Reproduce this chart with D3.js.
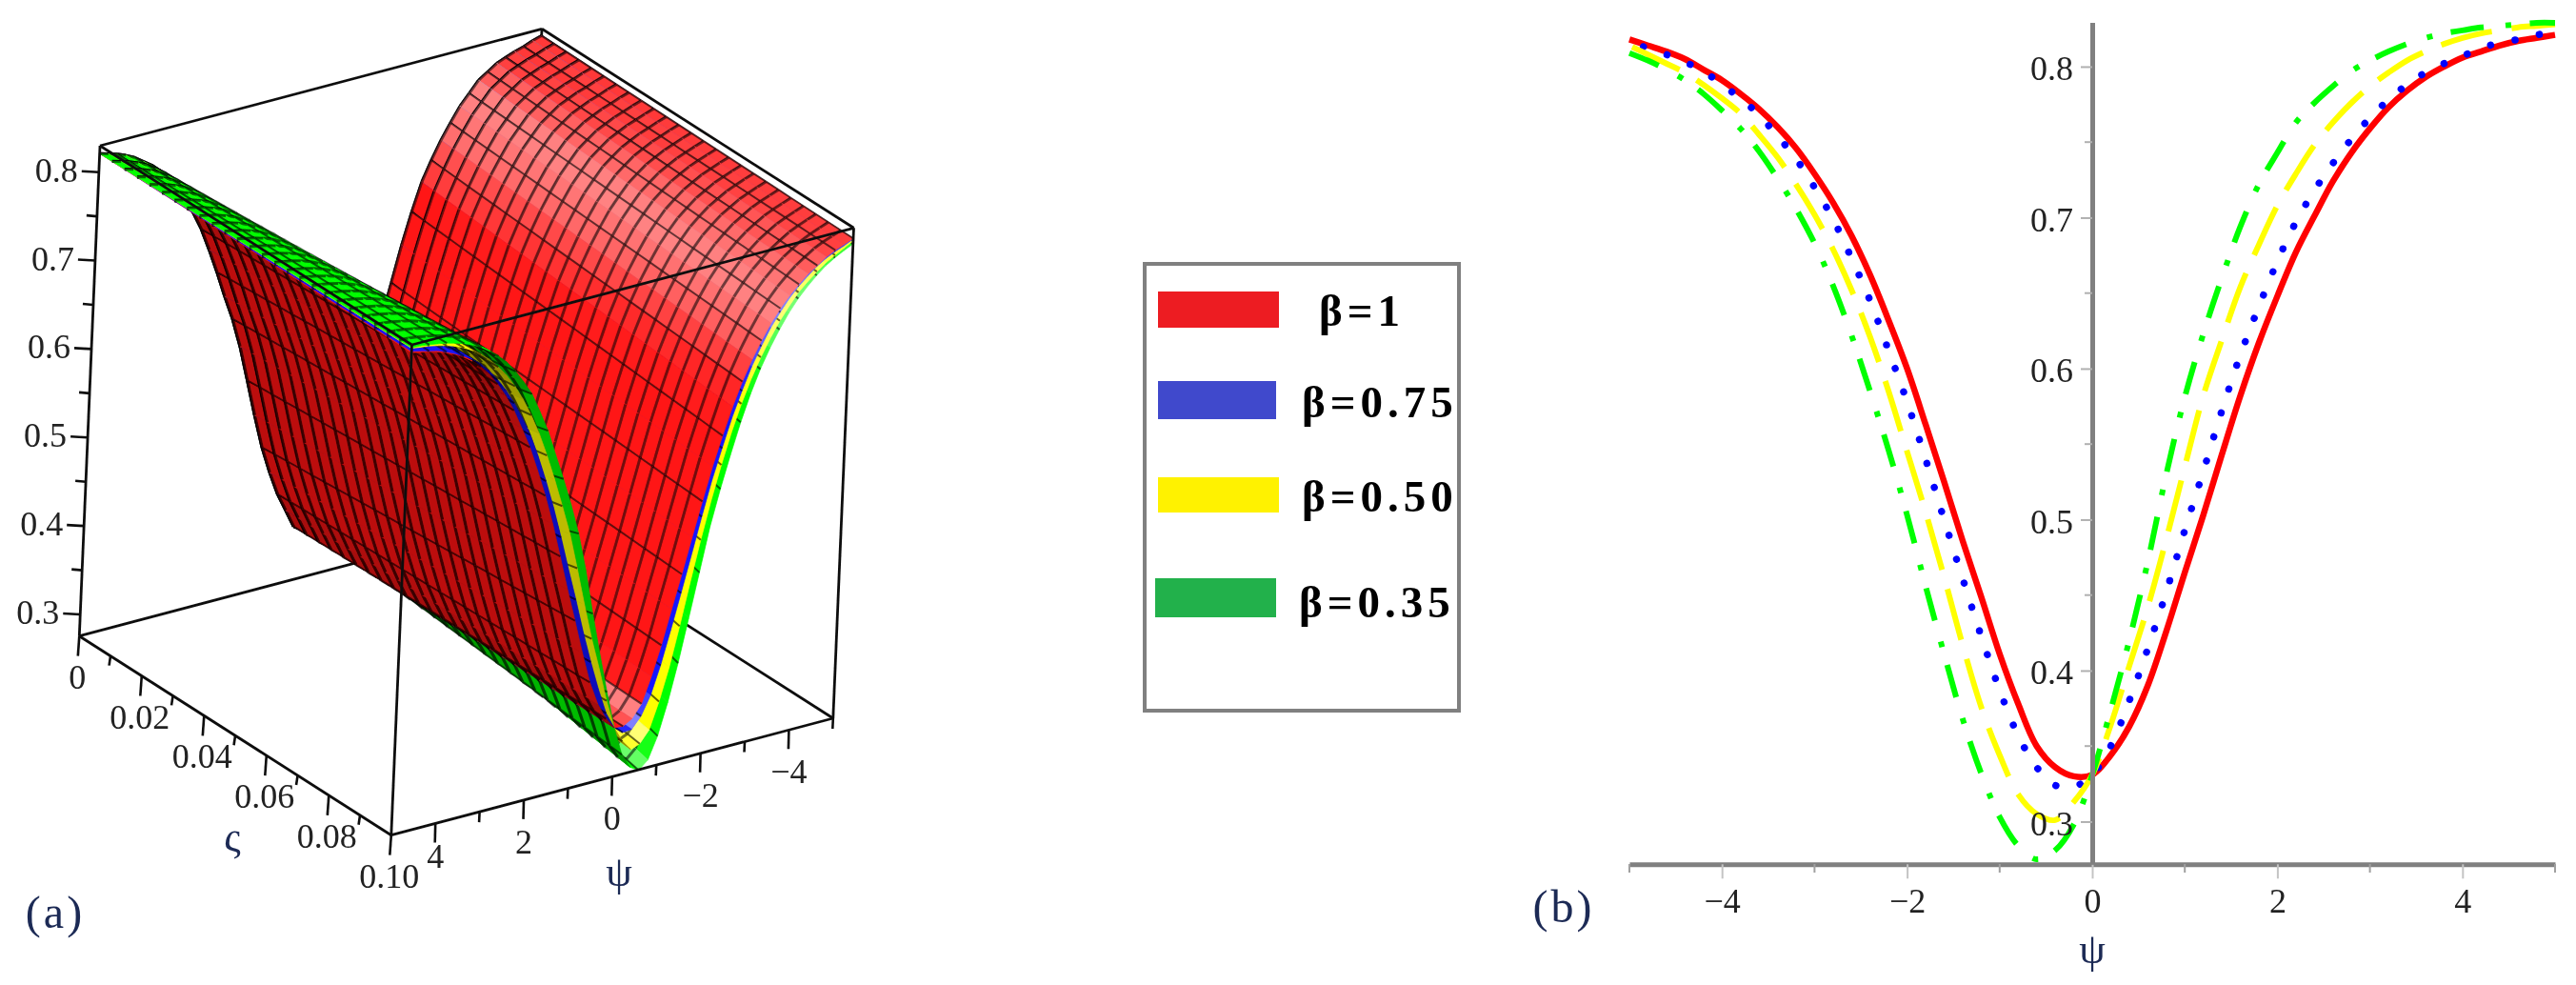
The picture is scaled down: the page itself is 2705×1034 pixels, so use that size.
<!DOCTYPE html>
<html><head><meta charset="utf-8">
<style>html,body{margin:0;padding:0;background:#fff}svg{display:block}text{font-family:"Liberation Serif",serif}</style>
<script src="https://cdn.jsdelivr.net/npm/d3@7"></script></head>
<body><svg id="c" width="2705" height="1034"></svg>
<script>
const psi=[-5,-4.8,-4.6,-4.4,-4.2,-4,-3.8,-3.6,-3.4,-3.2,-3,-2.8,-2.6,-2.4,-2.2,-2,-1.8,-1.6,-1.4,-1.2,-1,-.8,-.6,-.4,-.2,0,.2,.4,.6,.8,1,1.2,1.4,1.6,1.8,2,2.2,2.4,2.6,2.8,3,3.2,3.4,3.6,3.8,4,4.2,4.4,4.6,4.8,5];
const betaRed=[.818,.814,.81,.805,.798,.791,.782,.772,.76,.746,.729,.71,.688,.662,.632,.6,.563,.525,.486,.449,.411,.378,.35,.336,.33,.331,.344,.363,.39,.426,.465,.503,.543,.582,.617,.648,.677,.701,.724,.743,.759,.773,.784,.793,.8,.806,.81,.814,.817,.819,.821];
const betaBlue=[.817,.812,.808,.803,.797,.788,.779,.768,.754,.739,.72,.699,.673,.645,.612,.578,.54,.5,.461,.423,.387,.357,.336,.324,.323,.331,.35,.38,.4145,.452,.493,.532,.572,.609,.641,.671,.697,.718,.736,.752,.766,.778,.788,.796,.802,.807,.812,.816,.818,.821,.823];
const betaYellow=[.814,.808,.802,.796,.788,.779,.769,.755,.74,.722,.702,.679,.652,.621,.585,.545,.505,.462,.417,.376,.344,.318,.305,.301,.313,.331,.364,.403,.442,.487,.535,.582,.619,.654,.682,.708,.729,.748,.763,.776,.787,.796,.804,.81,.815,.819,.822,.824,.826,.827,.828];
const betaGreen=[.809,.804,.798,.791,.782,.771,.759,.744,.726,.706,.683,.655,.622,.585,.546,.503,.456,.411,.368,.332,.303,.284,.275,.281,.298,.331,.374,.42,.472,.53,.581,.623,.66,.694,.722,.743,.763,.776,.787,.797,.804,.81,.815,.819,.822,.824,.826,.827,.828,.829,.829];
const edgeZero=[.822,.819,.815,.812,.808,.804,.797,.79,.778,.766,.75,.733,.713,.691,.66,.625,.585,.545,.505,.466,.428,.392,.36,.34,.331,.33,.336,.357,.378,.405,.436,.475,.517,.558,.592,.62,.65,.678,.704,.725,.743,.758,.772,.783,.792,.799,.806,.811,.815,.818,.821];
const zetaGrid=[0,.004,.008,.012,.016,.02,.024,.028,.032,.036,.04,.044,.048,.052,.056,.06,.064,.068,.072,.076,.08,.084,.088,.092,.096,.1];
const legendLabels=["β=1","β=0.75","β=0.50","β=0.35"];
const legendColors=["#ed1c24","#3f48cc","#fff200","#22b14c"];
const zTicks=[.3,.35,.4,.45,.5,.55,.6,.65,.7,.75,.8];
const zLabels=[.3,.4,.5,.6,.7,.8];
const zetaTicks=[0,.01,.02,.03,.04,.05,.06,.07,.08,.09,.1];
const zetaLabels=["0","0.02","0.04","0.06","0.08","0.10"];
const psi3Ticks=[5,4,3,2,1,0,-1,-2,-3,-4,-5];
const psiLabels=[-4,-2,0,2,4];
const psiMinor=[-5,-3,-1,1,3,5];
const yLabelsB=[.3,.4,.5,.6,.7,.8];
const yMinorB=[.35,.45,.55,.65,.75];

const svg=d3.select("#c");
const defs=svg.append("defs");
defs.append("filter").attr("id","soft").attr("filterUnits","userSpaceOnUse").attr("x",0).attr("y",0).attr("width",2705).attr("height",1034)
  .append("feGaussianBlur").attr("stdDeviation",.6);
defs.append("clipPath").attr("id","plotB").append("rect").attr("x",1700).attr("y",20).attr("width",990).attr("height",888);
const root=svg.append("g").attr("filter","url(#soft)");
const fmtMinus=v=>(v<0?"−":"")+Math.abs(v);

/* ---------- panel (a): affine projection through three scales ---------- */
const E=[83.3,667.7];
const zetaX=d3.scaleLinear([0,.1],[0,327.5]), zetaY=d3.scaleLinear([0,.1],[0,209]);
const psiX=d3.scaleLinear([5,-5],[0,464]), psiY=d3.scaleLinear([5,-5],[0,-122.7]);
const zMin=.2756,zMax=.8298;
const zX=d3.scaleLinear([zMin,zMax],[0,21.7]), zY=d3.scaleLinear([zMin,zMax],[0,-514.7]);
const proj=(p,s,z)=>[E[0]+zetaX(s)+psiX(p)+zX(z),E[1]+zetaY(s)+psiY(p)+zY(z)];
const a=root.append("g");
const poly=d3.line();
const boxLine=(p,q)=>a.append("path").attr("d",poly([p,q])).attr("fill","none").attr("stroke","#111").attr("stroke-width",2.8);
const cA=proj(5,0,zMax),cB=proj(-5,0,zMax),cC=proj(-5,.1,zMax),cD=proj(5,.1,zMax),cE=proj(5,0,zMin),cF=proj(5,.1,zMin),cG=proj(-5,.1,zMin),cH=proj(-5,0,zMin);
boxLine(cE,cH);boxLine(cH,cG);boxLine(cH,cB);

const surfaces=[{v:betaGreen,c:[0,255,0]},{v:betaYellow,c:[255,255,0]},{v:betaBlue,c:[20,20,255]},{v:betaRed,c:[255,24,24]}];
/* the 3-D sheets fan out less on the walls than the curves of panel (b) */
const fan=d3.scaleLinear([0,.6,1.8],[1,1,.7]).clamp(true);
const zAt=(s,i,j)=>{
  const f=zetaGrid[j]/.1, front=betaRed[i]+fan(Math.abs(psi[i]+.2))*(s.v[i]-betaRed[i]);
  return edgeZero[i]+f*(front-edgeZero[i]);
};
const closed=d3.line().curve(d3.curveLinearClosed);
const mesh=a.append("g");
function shade(c,under,slope,rising){
  let r=c[0],g=c[1],b=c[2];
  if(under){const k=.5+.24*Math.min(1,Math.max(0,(slope-.044)/.09));
    const dom=Math.max(r,g,b);
    const ch=v=>(v===dom?v*k:v*k*k)|0;
    return `rgb(${ch(r)},${ch(g)},${ch(b)})`;}
  const l=rising?.46*Math.exp(-Math.pow((slope-.065)/.045,2)):0;
  return `rgb(${r+(255-r)*l|0},${g+(255-g)*l|0},${b+(255-b)*l|0})`;
}
/* back-to-front: larger ψ-distance first, smaller ς first; inside a cell, stack by facing */
for(let i=0;i<psi.length-1;i++){
  for(let j=0;j<zetaGrid.length-1;j++){
    const quads=surfaces.map(s=>{
      const p00=proj(psi[i],zetaGrid[j],zAt(s,i,j)),p10=proj(psi[i+1],zetaGrid[j],zAt(s,i+1,j)),
            p11=proj(psi[i+1],zetaGrid[j+1],zAt(s,i+1,j+1)),p01=proj(psi[i],zetaGrid[j+1],zAt(s,i,j+1));
      const d=(zAt(s,i,j)+zAt(s,i,j+1)-zAt(s,i+1,j)-zAt(s,i+1,j+1))/2/(psi[i+1]-psi[i]);
      return {s,p00,p10,p11,p01,d,under:d<-.0439,h:zAt(s,i,j)+zAt(s,i+1,j+1)};
    });
    const under=quads.filter(q=>q.under).sort((x,y)=>y.h-x.h);
    const over=quads.filter(q=>!q.under).sort((x,y)=>x.h-y.h);
    [...over,...under].forEach(q=>{
      const col=shade(q.s.c,q.under,Math.abs(q.d),q.d>0);
      mesh.append("path").attr("d",closed([q.p00,q.p10,q.p11,q.p01])).attr("fill",col).attr("stroke",col).attr("stroke-width",.7);
      mesh.append("path").attr("d",poly([q.p00,q.p10])).attr("fill","none").attr("stroke","#000").attr("stroke-opacity",q.under?.65:.55).attr("stroke-width",q.under?3.2:3);
      if(i%2===0) mesh.append("path").attr("d",poly([q.p00,q.p01])).attr("fill","none").attr("stroke","#000").attr("stroke-opacity",.6).attr("stroke-width",2);
    });
  }
}
boxLine(cA,cB);boxLine(cB,cC);boxLine(cC,cD);boxLine(cD,cA);boxLine(cA,cE);boxLine(cE,cF);boxLine(cF,cG);boxLine(cG,cC);boxLine(cD,cF);

const tickLine=(g,p,dx,dy,col="#111",w=2.6)=>g.append("path").attr("d",poly([p,[p[0]+dx,p[1]+dy]])).attr("fill","none").attr("stroke",col).attr("stroke-width",w);
const label=(g,x,y,t,o={})=>g.append("text").attr("x",x).attr("y",y).attr("text-anchor",o.anchor||"middle").attr("font-size",o.size||36).attr("fill",o.fill||"#222").attr("font-weight",o.weight||null).attr("letter-spacing",o.ls||null).text(t);

zTicks.forEach(z=>{
  const p=proj(5,0,z),major=zLabels.includes(z);
  tickLine(a,p,major?-18:-11,-1);
  if(major) label(a,p[0]-22,p[1]+10,z.toFixed(1),{anchor:"end"});
});
zetaTicks.forEach((s,k)=>{
  const p=proj(5,s,zMin),major=k%2===0;
  tickLine(a,p,-1.5,major?21:10);
  if(major) label(a,p[0]-2,p[1]+55,zetaLabels[k/2]);
});
psi3Ticks.forEach(v=>{
  const p=proj(v,.1,zMin),major=v%2===0;
  if(v===5) return;
  tickLine(a,p,-.5,major?20:11);
  if(major) label(a,p[0],p[1]+(v===4?47:56),fmtMinus(v));
});
label(a,244,893,"ς",{size:44,fill:"#1c2a55"});
label(a,650,930,"ψ",{size:44,fill:"#1c2a55"});
label(a,58,974,"(a)",{size:48,fill:"#1c2a55",ls:3});

/* ---------- legend ---------- */
const lg=root.append("g");
lg.append("rect").attr("x",1202).attr("y",277).attr("width",330).attr("height",469).attr("fill","#fff").attr("stroke","#808080").attr("stroke-width",4);
const swX=d3.scaleOrdinal(legendLabels,[1216,1216,1216,1213]);
const swW=d3.scaleOrdinal(legendLabels,[127,124,127,127]);
const swY=d3.scaleOrdinal(legendLabels,[306,400,501,607]);
const swH=d3.scaleOrdinal(legendLabels,[38,40,37,41]);
const txX=d3.scaleOrdinal(legendLabels,[1385,1367,1367,1364]);
const txY=d3.scaleOrdinal(legendLabels,[342,438,537,648]);
legendLabels.forEach((t,k)=>{
  lg.append("rect").attr("x",swX(t)).attr("y",swY(t)).attr("width",swW(t)).attr("height",swH(t)).attr("fill",legendColors[k]);
  label(lg,txX(t),txY(t),t,{anchor:"start",size:47,weight:"bold",fill:"#000",ls:5});
});

/* ---------- panel (b) ---------- */
const x=d3.scaleLinear([-5,5],[1711,2683]);
const y=d3.scaleLinear([.2717,.8293],[907.3,23.5]);
const b=root.append("g");
const curve=d3.line().x((d,i)=>x(psi[i])).y(d=>y(d)).curve(d3.curveCatmullRom.alpha(.5));
/* dash phase is pinned to one feature: [x,y on the page, place in the dash pattern] */
const lines=[
 {v:betaRed,c:"#ff0000",w:6.5},
 {v:betaBlue,c:"#0000ff",w:7.5,dash:"0.1 26.2",cap:"round",pin:[2140,806,0]},
 {v:betaYellow,c:"#ffff00",w:6,dash:"55 21",pin:[2072,718,27.5]},
 {v:betaGreen,c:"#00ff00",w:6,dash:"35 23 6 19.6",pin:[2137,901.7,61]}];
const clipG=b.append("g").attr("clip-path","url(#plotB)");
lines.forEach(l=>{
  const path=clipG.append("path").attr("d",curve(l.v)).attr("fill","none").attr("stroke",l.c).attr("stroke-width",l.w).attr("stroke-dasharray",l.dash||null).attr("stroke-linecap",l.cap||"butt");
  if(l.pin){
    const node=path.node(),total=node.getTotalLength();
    let best=0,bd=1e9;
    for(let s=0;s<total;s+=1){const q=node.getPointAtLength(s),e=(q.x-l.pin[0])**2+(q.y-l.pin[1])**2;if(e<bd){bd=e;best=s;}}
    path.attr("stroke-dashoffset",l.pin[2]-best);
  }
});
const axisCol="#808080";
const xAxis=d3.axisBottom(x).tickValues(psiLabels).tickSize(15).tickSizeOuter(0).tickFormat(fmtMinus);
const gx=b.append("g").attr("transform",`translate(0,${y.range()[0]})`).call(xAxis);
gx.select(".domain").attr("stroke",axisCol).attr("stroke-width",5);
gx.selectAll(".tick line").attr("stroke","#c4c4c4").attr("stroke-width",2);
gx.selectAll("text").attr("font-size",36).attr("fill","#222").attr("y",51).attr("dy",0);
psiMinor.forEach(v=>b.append("path").attr("d",poly([[x(v),907],[x(v),916]])).attr("stroke","#a0a0a0").attr("stroke-width",2));
const yAxis=d3.axisLeft(y).tickValues(yLabelsB).tickSize(12).tickSizeOuter(0).tickFormat(d3.format(".1f"));
const gy=b.append("g").attr("transform",`translate(${x(0)},0)`).call(yAxis);
gy.select(".domain").attr("stroke",axisCol).attr("stroke-width",5);
gy.selectAll(".tick line").attr("stroke","#b0b0b0").attr("stroke-width",2);
gy.selectAll("text").attr("font-size",36).attr("fill","#222").attr("x",-20).attr("dy",14);
yMinorB.forEach(v=>b.append("path").attr("d",poly([[x(0)-8,y(v)],[x(0),y(v)]])).attr("stroke","#b0b0b0").attr("stroke-width",2));
label(b,2197,1011,"ψ",{size:44,fill:"#1c2a55"});
label(b,1642,968,"(b)",{size:48,fill:"#1c2a55",ls:3});
</script></body></html>
